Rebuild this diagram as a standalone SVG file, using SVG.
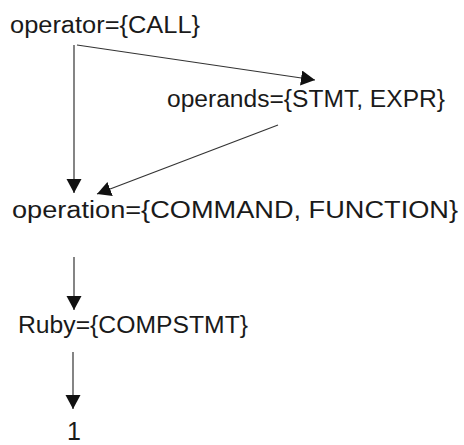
<svg xmlns="http://www.w3.org/2000/svg" width="464" height="445" viewBox="0 0 464 445">
<style>
.t{font-family:"Liberation Sans",Arial,sans-serif;font-size:23px;fill:#1a1a1a}
.c{stroke:#333;stroke-width:1.2;fill:none;marker-end:url(#ah)}
</style>
<defs>
<marker id="ah" markerUnits="userSpaceOnUse" markerWidth="15" markerHeight="16" refX="14" refY="7.5" orient="auto" viewBox="0 0 15 16">
<path d="M0,0 L14,7.5 L0,15 z" fill="#111"/>
</marker>
</defs>
<rect width="464" height="445" fill="#fff"/>
<g id="connectors">
<line class="c" x1="74" y1="45" x2="74" y2="193"/>
<line class="c" x1="77" y1="45" x2="315" y2="80"/>
<line class="c" x1="278" y1="125" x2="97" y2="194"/>
<line class="c" x1="74" y1="257" x2="74" y2="310"/>
<line class="c" x1="73" y1="352" x2="73" y2="409"/>
</g>
<g id="operator"><text class="t" x="10" y="33" textLength="190" lengthAdjust="spacingAndGlyphs">operator={CALL}</text></g>
<g id="operands"><text class="t" x="167" y="107" textLength="278" lengthAdjust="spacingAndGlyphs">operands={STMT, EXPR}</text></g>
<g id="operation"><text class="t" x="12" y="218" textLength="446" lengthAdjust="spacingAndGlyphs">operation={COMMAND, FUNCTION}</text></g>
<g id="ruby"><text class="t" x="18" y="333" textLength="230" lengthAdjust="spacingAndGlyphs">Ruby={COMPSTMT}</text></g>
<g id="one"><text class="t" x="67" y="440" style="font-size:25px">1</text></g>
</svg>
